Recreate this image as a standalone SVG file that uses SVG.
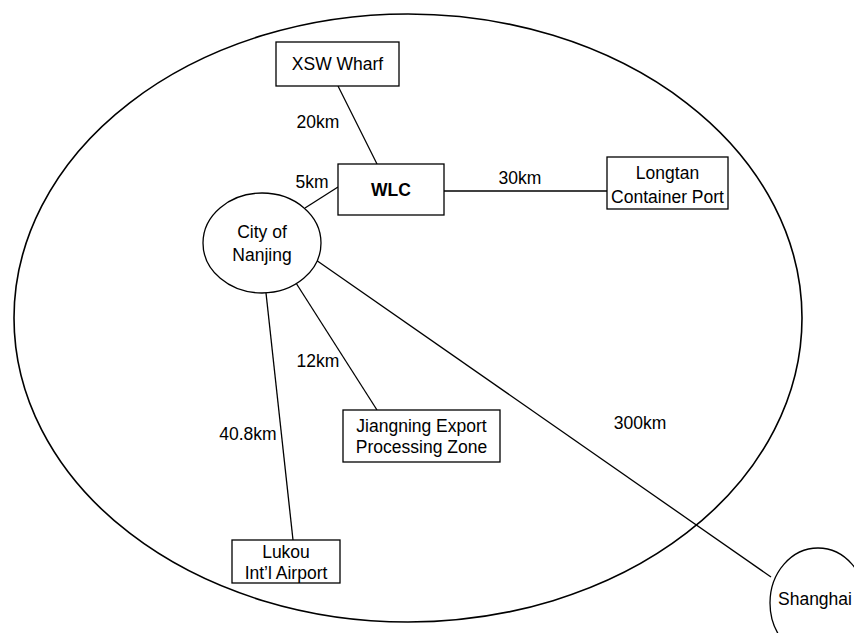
<svg xmlns="http://www.w3.org/2000/svg" width="854" height="633" viewBox="0 0 854 633">
<style>
.s{fill:#fff;stroke:#000;stroke-width:1.3}
.c line{stroke:#000;stroke-width:1.3}
text{font-family:"Liberation Sans",Arial,sans-serif;font-size:17.5px;fill:#000;text-anchor:middle}
.b{font-weight:bold}
</style>
<rect width="854" height="633" fill="#fff"/>
<ellipse id="region" cx="408" cy="318" rx="394" ry="304" fill="none" stroke="#000" stroke-width="1.6"/>
<g class="c" id="connectors">
<line x1="338" y1="86" x2="377" y2="164"/>
<line x1="338" y1="187" x2="305" y2="208"/>
<line x1="444" y1="191" x2="607" y2="191"/>
<line x1="296" y1="283" x2="377" y2="410"/>
<line x1="266" y1="293" x2="293" y2="540"/>
<line x1="316" y1="260" x2="771" y2="577"/>
</g>
<g id="labels">
<text x="318" y="128">20km</text>
<text x="312" y="188">5km</text>
<text x="520" y="184">30km</text>
<text x="318" y="367">12km</text>
<text x="248" y="440">40.8km</text>
<text x="640" y="429">300km</text>
</g>
<g id="xsw"><rect class="s" x="276" y="42" width="123" height="44"/><text x="337.5" y="70">XSW Wharf</text></g>
<g id="wlc"><rect class="s" x="338" y="164" width="106" height="51"/><text class="b" x="391" y="196">WLC</text></g>
<g id="longtan"><rect class="s" x="607" y="157" width="121" height="52"/><text x="667.5" y="179">Longtan</text><text x="667.5" y="203">Container Port</text></g>
<g id="nanjing"><ellipse class="s" cx="262" cy="243" rx="59" ry="50"/><text x="262" y="238">City of</text><text x="262" y="261">Nanjing</text></g>
<g id="jiangning"><rect class="s" x="343" y="410" width="157" height="52"/><text x="421.5" y="432">Jiangning Export</text><text x="421.5" y="453">Processing Zone</text></g>
<g id="lukou"><rect class="s" x="232" y="540" width="108" height="43"/><text x="286" y="558">Lukou</text><text x="286" y="579">Int’l Airport</text></g>
<g id="shanghai"><ellipse class="s" cx="818" cy="603" rx="48" ry="55"/><text x="778" y="605" style="text-anchor:start">Shanghai</text></g>
</svg>
